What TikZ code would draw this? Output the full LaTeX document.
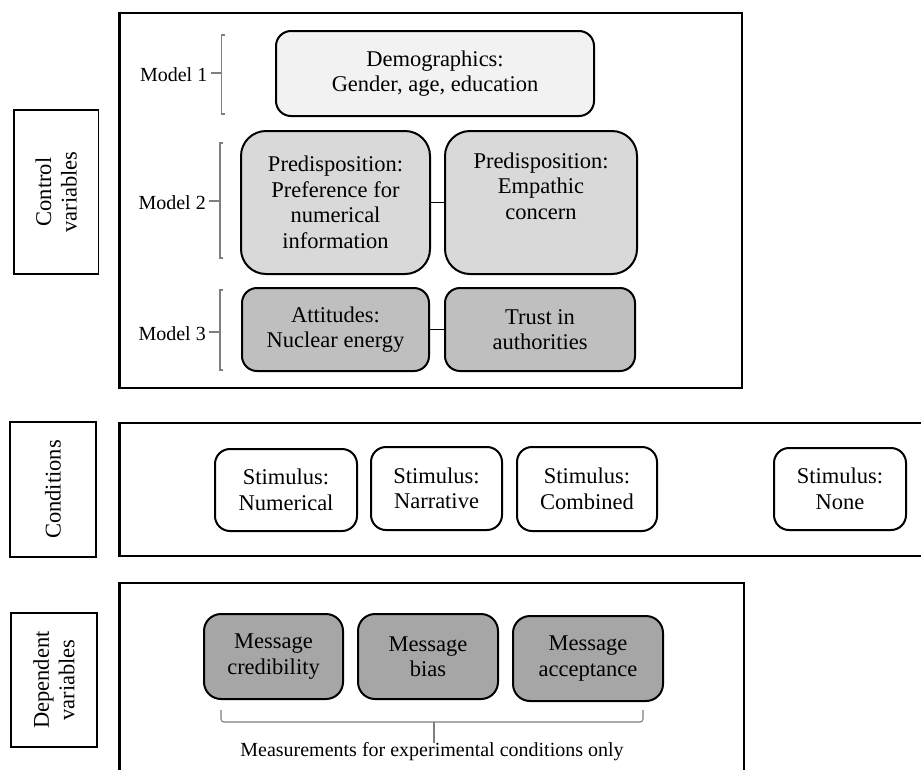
\documentclass[tikz,border=0pt]{standalone}
\usepackage{fontspec}
\setmainfont{Liberation Serif}
\definecolor{fillA}{HTML}{F2F2F2}
\definecolor{fillB}{HTML}{D9D9D9}
\definecolor{fillC}{HTML}{BFBFBF}
\definecolor{fillD}{HTML}{A6A6A6}
\definecolor{brk}{HTML}{7F7F7F}
\tikzset{
  rbox/.style={draw=black, line width=2pt, rounded corners=#1, align=center, inner sep=0pt,
    font=\fontsize{22.5}{25.5}\selectfont},
  rbox/.default=15pt,
  lbox/.style={draw=black, line width=1.4pt, align=center, inner sep=0pt, rotate=90,
    font=\fontsize{22.5}{25.5}\selectfont},
  bigbox/.style={draw=black, line width=2.2pt},
  link/.style={draw=black, line width=1.2pt},
  brack/.style={draw=brk, line width=1.1pt},
  mlabel/.style={anchor=east, inner sep=3pt, font=\fontsize{20}{22}\selectfont},
}
\begin{document}
\begin{tikzpicture}[x=1pt,y=-1pt]
\useasboundingbox (0,0) rectangle (921,769);
\clip (0,0) rectangle (921,769);
\fill[white] (0,0) rectangle (921,769);

% big frames
\draw[bigbox] (119.5,13) rectangle (741.7,388);
\draw[bigbox] (930,422.7) -- (119.5,422.7) -- (119.5,555.7) -- (930,555.7);
\draw[bigbox] (119.5,780) -- (119.5,583) -- (744,583) -- (744,780);

% side labels
\node[lbox, minimum width=164pt, minimum height=84.7pt] (lctrl) at (56.3,192) {Control\\variables};
\node[lbox, minimum width=135pt, minimum height=86pt] (lcond) at (53,489.5) {Conditions};
\node[lbox, minimum width=134pt, minimum height=86pt] (ldep) at (54,680) {Dependent\\variables};

% control variables
\node[rbox, fill=fillA, minimum width=318pt, minimum height=85pt] (demo) at (435,73.5) {Demographics:\\Gender, age, education};
\node[rbox=25pt, fill=fillB, minimum width=189pt, minimum height=143pt] (pred1) at (335.5,202.5) {Predisposition:\\Preference for\\numerical\\information};
\node[rbox=25pt, fill=fillB, minimum width=192pt, minimum height=143pt] (pred2) at (541,202.5) {Predisposition:\\Empathic\\concern\\\strut};
\node[rbox, fill=fillC, minimum width=187pt, minimum height=83pt] (att) at (335.5,329.5) {Attitudes:\\Nuclear energy};
\node[rbox, fill=fillC, minimum width=190pt, minimum height=83pt] (trust) at (540,329.5) {Trust in\\authorities};
\draw[link] (pred1.east) -- (pred2.west);
\draw[link] (att.east) -- (trust.west);

% model brackets
\coordinate (m1) at (221.5,73);
\coordinate (m2) at (220,201);
\coordinate (m3) at (220,332);
\node[mlabel] (ml1) at (210.5,75) {Model 1};
\node[mlabel] (ml2) at (209,203) {Model 2};
\node[mlabel] (ml3) at (209,334) {Model 3};
\draw[brack] (224.5,35) -- (221.5,35) -- (221.5,114) -- (224.5,114);
\draw[brack] (ml1.east |- m1) -- (m1);
\draw[brack] (223,143) -- (220,143) -- (220,258) -- (223,258);
\draw[brack] (ml2.east |- m2) -- (m2);
\draw[brack] (223,290) -- (220,290) -- (220,370) -- (223,370);
\draw[brack] (ml3.east |- m3) -- (m3);

% conditions
\node[rbox, fill=white, minimum width=142pt, minimum height=82pt] (snum) at (286,490) {Stimulus:\\Numerical};
\node[rbox, fill=white, minimum width=131pt, minimum height=83pt] (snar) at (436.5,488.5) {Stimulus:\\Narrative};
\node[rbox, fill=white, minimum width=140pt, minimum height=84pt] (scom) at (587,489) {Stimulus:\\Combined};
\node[rbox, fill=white, minimum width=132pt, minimum height=82pt] (snone) at (840,489) {Stimulus:\\None};

% dependent variables
\node[rbox=17pt, fill=fillD, minimum width=139pt, minimum height=85pt] (mcred) at (273.5,656.5) {Message\\credibility};
\node[rbox=17pt, fill=fillD, minimum width=140pt, minimum height=85pt] (mbias) at (428,656.5) {Message\\bias};
\node[rbox=17pt, fill=fillD, minimum width=150pt, minimum height=85pt] (macc) at (588,658.5) {Message\\acceptance};

\coordinate (bl) at (221,710);
\coordinate (br) at (643,710);
\coordinate (bm) at (434,722);
\node[font=\fontsize{20}{22}\selectfont, inner sep=0pt] (meas) at (432,752) {Measurements for experimental conditions only};
\draw[brack, rounded corners=3pt] (bl) |- (bm) -| (br);
\draw[brack] (bm) -- (meas.north -| bm);
\end{tikzpicture}
\end{document}
